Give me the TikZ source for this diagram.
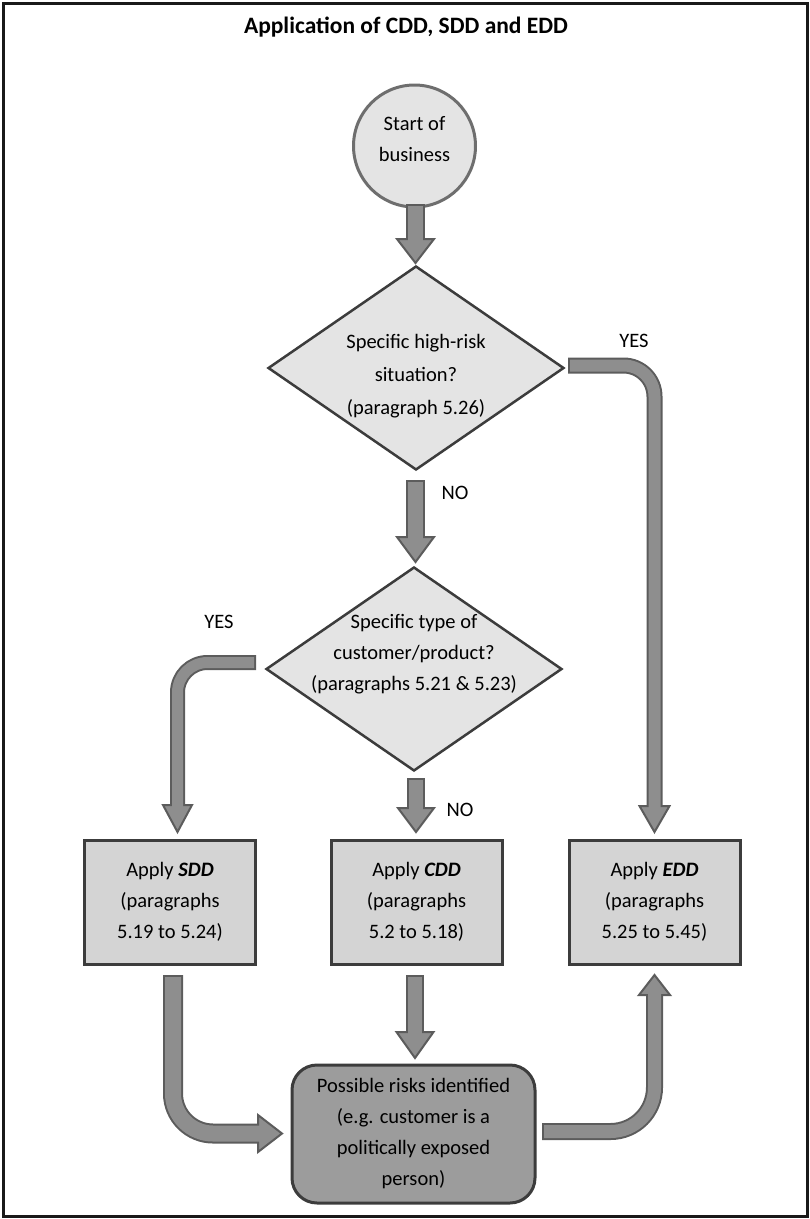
\documentclass[tikz,border=0pt]{standalone}
\usepackage{fontspec}
\setmainfont{Carlito}
\usetikzlibrary{shapes.geometric,calc}
\definecolor{arrfill}{HTML}{8E8E8E}
\definecolor{arrborder}{HTML}{5C5C5C}
\definecolor{lightfill}{HTML}{E4E4E4}
\definecolor{boxfill}{HTML}{D4D4D4}
\definecolor{darkfill}{HTML}{9C9C9C}
\definecolor{edge}{HTML}{3C3C3C}
\definecolor{circedge}{HTML}{6E6E6E}
\newcommand\blockarrow[4][30]{%
  \pgfmathsetmacro\bawin{#2-4}%
  \fill[arrfill,draw=arrborder,line width=2pt,line join=miter] #4;
  \draw[arrborder,line width=#2pt,rounded corners=#1pt] #3;
  \draw[arrfill,line width=\bawin pt,rounded corners=#1pt,shorten <=2pt,shorten >=-2.5pt] #3;
}
\begin{document}
\begin{tikzpicture}[x=1pt,y=-1pt,
  font=\fontsize{20.5}{31}\selectfont,
  txt/.style={align=center,inner sep=0pt},
  startc/.style={circle,draw=circedge,line width=3pt,fill=lightfill,minimum size=122pt,inner sep=0pt},
  dia/.style={diamond,draw=edge,line width=2.5pt,fill=lightfill,minimum width=296pt,minimum height=204pt,inner sep=0pt},
  sbox/.style={rectangle,draw=edge,line width=3pt,fill=boxfill,minimum width=171pt,minimum height=124pt,align=center,inner sep=0pt},
  rbox/.style={rectangle,rounded corners=25pt,draw=edge,line width=3pt,fill=darkfill,minimum width=243pt,minimum height=138pt,align=center,inner sep=0pt},
  lbl/.style={inner sep=0pt}]
\useasboundingbox (0,0) rectangle (810,1219);
\draw[line width=3pt,draw=black!90] (3,3) rectangle (807,1216);

\node[txt,font=\fontsize{23.5}{28}\selectfont\bfseries] (title) at (406,27) {Application of CDD, SDD and EDD};

\node[startc] (start) at (414.5,146) {};
\node[txt] (startt) at (414.5,139) {Start of\\business};

\node[dia] (d1) at (416,368) {};
\node[txt,font=\fontsize{20.5}{33}\selectfont] (d1t) at (416,376) {Specific high-risk\\situation?\\(paragraph 5.26)};

\node[dia] (d2) at (414,669) {};
\node[txt] (d2t) at (414,654) {Specific type of\\customer/product?\\(paragraphs 5.21 \& 5.23)};

\node[sbox] (sdd) at (170,902) {Apply \textbf{\textit{SDD}}\\(paragraphs\\5.19 to 5.24)};
\node[sbox] (cdd) at (416.5,902) {Apply \textbf{\textit{CDD}}\\(paragraphs\\5.2 to 5.18)};
\node[sbox] (edd) at (654.5,902) {Apply \textbf{\textit{EDD}}\\(paragraphs\\5.25 to 5.45)};

\node[rbox] (risk) at (413.5,1134) {Possible risks identified\\(e.g. customer is a\\politically exposed\\person)};

% arrows
\blockarrow{19}{(415.5,204) -- (415.5,239)}{(397,239) -- (415.5,263) -- (434,239) -- cycle}
\blockarrow{19}{(415.5,480) -- (415.5,537)}{(397,537) -- (415.5,562) -- (434,537) -- cycle}
\blockarrow[31]{16}{(568,365.5) -- (654.5,365.5) -- (654.5,806)}{(639.5,806) -- (654.5,832) -- (669.5,806) -- cycle}
\blockarrow[30]{15}{(256,662.5) -- (177.5,662.5) -- (177.5,805)}{(163,805) -- (177.5,832) -- (192,805) -- cycle}
\blockarrow{18}{(416,778) -- (416,808)}{(398,808) -- (416,832) -- (434,808) -- cycle}
\blockarrow[40]{20}{(173,975) -- (173,1133.5) -- (258,1133.5)}{(258,1115) -- (282,1133.5) -- (258,1152) -- cycle}
\blockarrow{18}{(415,975) -- (415,1032)}{(396.5,1032) -- (415,1058) -- (433.5,1032) -- cycle}
\blockarrow[44]{17}{(542,1131.5) -- (654.5,1131.5) -- (654.5,995)}{(639,995) -- (654.5,975) -- (670,995) -- cycle}

\node[lbl] (yes1) at (634,341) {YES};
\node[lbl] (no1) at (455,493) {NO};
\node[lbl] (yes2) at (219,622) {YES};
\node[lbl] (no2) at (460,810) {NO};
\end{tikzpicture}
\end{document}
